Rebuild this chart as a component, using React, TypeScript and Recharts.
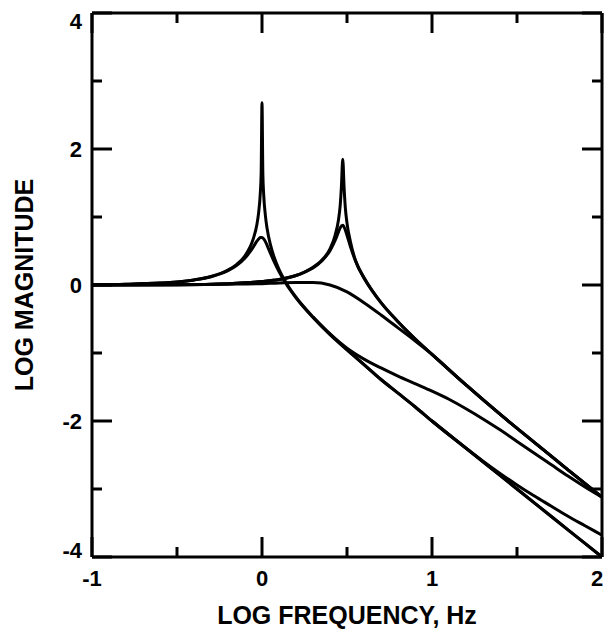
import React from "react";
import { LineChart, Line, XAxis, YAxis } from "recharts";

// Log-log frequency response: resonances at log f = 0 and log f ~ 0.48,
// each with a lightly and a more heavily damped version, plus the coupled curves.

type Pt = [number, number];

const xTicks = [-1, -0.5, 0, 0.5, 1, 1.5, 2];
const yTicks = [-4, -3, -2, -1, 0, 1, 2, 3, 4];

// sharp peak at log f = 0
const peak0Sharp: Pt[] = [
  [-1, 0.004], [-0.8, 0.011], [-0.6, 0.028], [-0.5, 0.046], [-0.4, 0.075],
  [-0.3, 0.125], [-0.2, 0.22], [-0.15, 0.3], [-0.1, 0.43], [-0.07, 0.56],
  [-0.05, 0.69], [-0.03, 0.89], [-0.02, 1.06], [-0.01, 1.35], [-0.005, 1.64],
  [0, 2.68], [0.005, 1.64], [0.01, 1.33], [0.02, 1.02], [0.03, 0.83],
  [0.05, 0.59], [0.07, 0.42], [0.1, 0.23], [0.15, 0.0], [0.2, -0.18],
  [0.3, -0.47], [0.4, -0.72], [0.5, -0.95], [0.6, -1.17], [0.7, -1.39],
  [0.8, -1.59], [0.9, -1.79], [1.0, -2.0], [1.2, -2.4], [1.4, -2.8],
  [1.6, -3.2], [1.8, -3.6], [2.0, -4.0],
];

// damped peak at log f = 0
const peak0Damped: Pt[] = [
  [-1, 0.004], [-0.8, 0.011], [-0.6, 0.028], [-0.5, 0.045], [-0.4, 0.074],
  [-0.3, 0.122], [-0.2, 0.211], [-0.15, 0.285], [-0.1, 0.396], [-0.07, 0.49],
  [-0.05, 0.565], [-0.03, 0.645], [-0.02, 0.677], [-0.01, 0.698], [0, 0.7],
  [0.01, 0.678], [0.02, 0.638], [0.03, 0.584], [0.05, 0.465], [0.07, 0.35],
  [0.1, 0.196], [0.15, -0.015], [0.2, -0.189], [0.3, -0.478], [0.4, -0.73],
  [0.5, -0.955], [0.6, -1.17], [0.7, -1.39], [0.8, -1.59], [0.9, -1.79],
  [1.0, -2.0], [1.2, -2.4], [1.4, -2.8], [1.6, -3.2], [1.8, -3.6], [2.0, -4.0],
];

// sharp peak near log f = 0.48
const peak1Sharp: Pt[] = [
  [-1, 0.0], [-0.5, 0.005], [-0.2, 0.02], [0, 0.05], [0.1, 0.08],
  [0.2, 0.14], [0.25, 0.19], [0.3, 0.26], [0.35, 0.36], [0.4, 0.53],
  [0.43, 0.73], [0.45, 0.96], [0.46, 1.17], [0.467, 1.44], [0.475, 1.85],
  [0.483, 1.43], [0.49, 1.14], [0.5, 0.91], [0.52, 0.64], [0.55, 0.36],
  [0.6, 0.11], [0.65, -0.09], [0.7, -0.26], [0.8, -0.54], [0.9, -0.79],
  [1.0, -1.02], [1.2, -1.47], [1.4, -1.9], [1.6, -2.31], [1.8, -2.72], [2.0, -3.12],
];

// damped peak near log f = 0.48
const peak1Damped: Pt[] = [
  [-1, 0.0], [-0.5, 0.005], [-0.2, 0.02], [0, 0.05], [0.1, 0.08],
  [0.2, 0.14], [0.25, 0.19], [0.3, 0.25], [0.35, 0.35], [0.4, 0.505],
  [0.43, 0.654], [0.45, 0.781], [0.46, 0.841], [0.475, 0.879], [0.49, 0.811],
  [0.5, 0.732], [0.52, 0.565], [0.55, 0.355], [0.6, 0.098], [0.65, -0.09],
  [0.7, -0.26], [0.8, -0.54], [0.9, -0.79], [1.0, -1.02], [1.2, -1.47],
  [1.4, -1.9], [1.6, -2.31], [1.8, -2.72], [2.0, -3.12],
];

// broad shoulder, heavily damped
const shoulder: Pt[] = [
  [-1, 0.0], [-0.5, 0.005], [-0.2, 0.012], [0, 0.02], [0.1, 0.03],
  [0.2, 0.035], [0.3, 0.035], [0.4, 0.0], [0.5, -0.1], [0.6, -0.26],
  [0.7, -0.44], [0.8, -0.63], [0.9, -0.82], [1.0, -1.02], [1.2, -1.47],
  [1.4, -1.9], [1.6, -2.31], [1.8, -2.72], [2.0, -3.12],
];

// leaves the lower bundle near 0.5, rejoins the upper one at 2
const crossover: Pt[] = [
  [0.3, -0.47], [0.4, -0.72], [0.5, -0.93], [0.6, -1.09], [0.7, -1.22],
  [0.8, -1.34], [0.9, -1.45], [1.0, -1.56], [1.1, -1.68], [1.2, -1.82],
  [1.3, -1.97], [1.4, -2.13], [1.5, -2.3], [1.6, -2.47], [1.7, -2.64],
  [1.8, -2.81], [1.9, -2.97], [2.0, -3.12],
];

// bends away from the lower bundle at high frequency
const tail: Pt[] = [
  [1.0, -2.0], [1.2, -2.4], [1.3, -2.59], [1.4, -2.77], [1.5, -2.94],
  [1.6, -3.1], [1.7, -3.25], [1.8, -3.4], [1.9, -3.54], [2.0, -3.68],
];

const curves = [peak0Sharp, peak0Damped, peak1Sharp, peak1Damped, shoulder, crossover, tail];

const FONT = "'Liberation Sans', Arial, Helvetica, sans-serif";
const W = 609;
const H = 632;
const PLOT = { left: 92, right: 602, top: 13, bottom: 557 };
const MAJOR = 20;
const MINOR = 10;

const toPts = (a: Pt[]) => a.map(([x, y]) => ({ x, y }));

function BottomTick(props: any) {
  const { x, y, payload } = props;
  const v = payload.value;
  const major = Number.isInteger(v);
  return (
    <g>
      <line x1={x} x2={x} y1={y} y2={y - (major ? MAJOR : MINOR)} stroke="#000" strokeWidth={3} />
      {major && (
        <text x={x + (v === 2 ? -5 : 0)} y={y + 29} textAnchor="middle" fontFamily={FONT} fontWeight="bold" fontSize={22} fill="#000">
          {String(v)}
        </text>
      )}
    </g>
  );
}

function TopTick(props: any) {
  const { x, y, payload } = props;
  const major = Number.isInteger(payload.value);
  return <line x1={x} x2={x} y1={y} y2={y + (major ? MAJOR : MINOR)} stroke="#000" strokeWidth={3} />;
}

function LeftTick(props: any) {
  const { x, y, payload } = props;
  const v = payload.value;
  const major = v % 2 === 0;
  const dy = v === 4 ? 8 : v === -4 ? -7 : 0;
  return (
    <g>
      <line x1={x} x2={x + (major ? MAJOR : MINOR)} y1={y} y2={y} stroke="#000" strokeWidth={3} />
      {major && (
        <text x={x - 10} y={y + dy} dy={8} textAnchor="end" fontFamily={FONT} fontWeight="bold" fontSize={22} fill="#000">
          {String(v)}
        </text>
      )}
    </g>
  );
}

function RightTick(props: any) {
  const { x, y, payload } = props;
  const major = payload.value % 2 === 0;
  return <line x1={x} x2={x - (major ? MAJOR : MINOR)} y1={y} y2={y} stroke="#000" strokeWidth={3} />;
}

function YTitle() {
  const cx = 24;
  const cy = (PLOT.top + PLOT.bottom) / 2;
  return (
    <text x={cx} y={cy} dy={9} transform={`rotate(-90, ${cx}, ${cy})`} textAnchor="middle" fontFamily={FONT} fontWeight="bold" fontSize={25} fill="#000">
      LOG MAGNITUDE
    </text>
  );
}

function XTitle() {
  const cx = (PLOT.left + PLOT.right) / 2;
  return (
    <text x={cx} y={624} textAnchor="middle" fontFamily={FONT} fontWeight="bold" fontSize={25} fill="#000">
      LOG FREQUENCY, Hz
    </text>
  );
}

const axisLine = { stroke: "#000", strokeWidth: 3 };

export default function App() {
  return (
    <div style={{ position: "absolute", left: 0, top: 0, width: W, height: H, background: "#fff" }}>
      <LineChart
        width={W}
        height={H}
        margin={{ top: PLOT.top - 1, right: W - PLOT.right - 1, left: 0, bottom: 0 }}
      >
        <XAxis
          dataKey="x"
          type="number"
          domain={[-1, 2]}
          ticks={xTicks}
          interval={0}
          height={H - PLOT.bottom}
          axisLine={axisLine}
          tickLine={false}
          tickSize={0}
          tickMargin={0}
          tick={<BottomTick />}
          allowDataOverflow
          label={<XTitle />}
        />
        <XAxis
          xAxisId="top"
          orientation="top"
          dataKey="x"
          type="number"
          domain={[-1, 2]}
          ticks={xTicks}
          interval={0}
          height={1}
          axisLine={axisLine}
          tickLine={false}
          tickSize={0}
          tickMargin={0}
          tick={<TopTick />}
          allowDataOverflow
        />
        <YAxis
          type="number"
          domain={[-4, 4]}
          ticks={yTicks}
          interval={0}
          width={PLOT.left}
          axisLine={axisLine}
          tickLine={false}
          tickSize={0}
          tickMargin={0}
          tick={<LeftTick />}
          allowDataOverflow
          label={<YTitle />}
        />
        <YAxis
          yAxisId="right"
          orientation="right"
          type="number"
          domain={[-4, 4]}
          ticks={yTicks}
          interval={0}
          width={1}
          axisLine={axisLine}
          tickLine={false}
          tickSize={0}
          tickMargin={0}
          tick={<RightTick />}
          allowDataOverflow
        />
        {curves.map((c, i) => (
          <Line
            key={i}
            data={toPts(c)}
            dataKey="y"
            type="monotoneX"
            stroke="#000"
            strokeWidth={3}
            dot={false}
            activeDot={false}
            isAnimationActive={false}
          />
        ))}
      </LineChart>
    </div>
  );
}
